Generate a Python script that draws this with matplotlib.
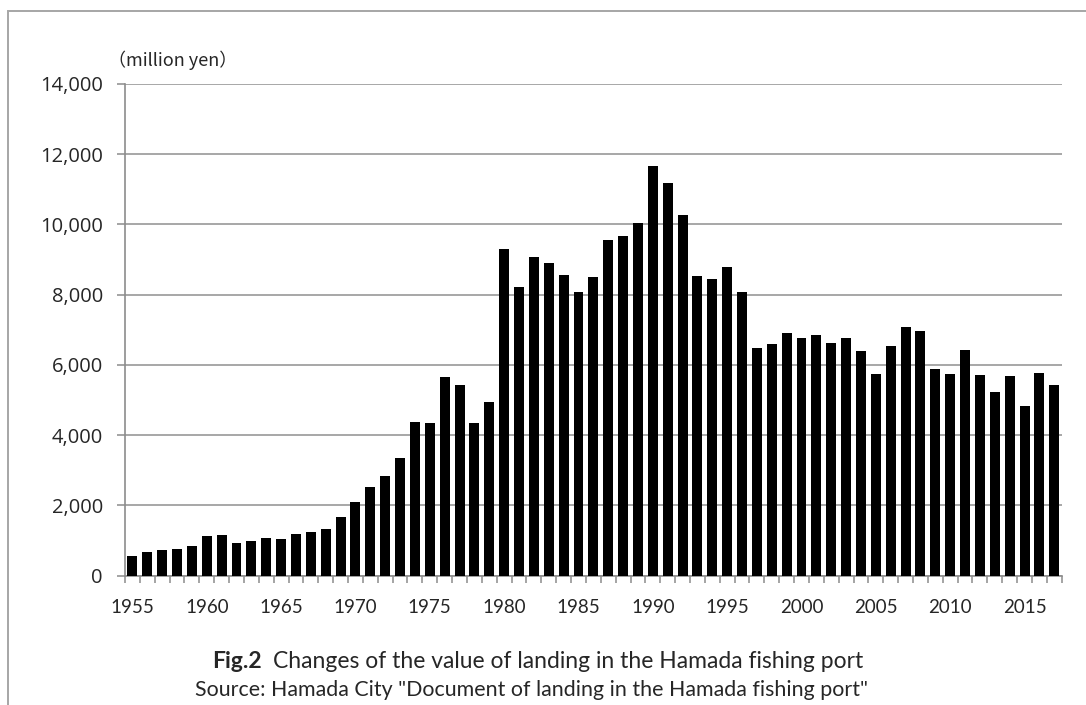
import matplotlib
matplotlib.use("Agg")
import matplotlib.pyplot as plt
from matplotlib.patches import Rectangle
import numpy as np

years = list(range(1955, 2018))
values = [560, 682, 723, 753, 855, 1140, 1171, 926, 977, 1079,
          1049, 1201, 1242, 1334, 1659, 2097, 2525, 2840, 3349, 4370,
          4341, 5649, 5431, 4341, 4948, 9299, 8218, 9081, 8891, 8569,
          8086, 8512, 9564, 9659, 10048, 11659, 11195, 10266, 8531, 8446,
          8797, 8086, 6494, 6589, 6901, 6778, 6845, 6617, 6778, 6399,
          5745, 6551, 7091, 6977, 5887, 5745, 6427, 5716, 5242, 5688,
          4825, 5783, 5432]
y_ticks = [0, 2000, 4000, 6000, 8000, 10000, 12000, 14000]
unit_label = "（million yen）"
caption_bold = "Fig.2"
caption_rest = "Changes of the value of landing in the Hamada fishing port"
source_line = 'Source: Hamada City "Document of landing in the Hamada fishing port"'

W, H = 1086, 705
fig = plt.figure(figsize=(W / 100, H / 100), dpi=100)
fig.patch.set_facecolor("white")
TXT = "#262626"

# chart border
fig.patches.append(Rectangle((8 / W, -0.05), 1.1, 1 - 11 / H + 0.05,
                             transform=fig.transFigure, fill=False,
                             edgecolor="#a6a6a6", linewidth=1.4))

ax = fig.add_axes([125 / W, 1 - 575.7 / H, (1061.7 - 125) / W, (575.7 - 84) / H])
x = np.arange(len(years))
ax.bar(x, values, width=0.67, color="black", zorder=3)

ax.set_xlim(-0.5, len(years) - 0.5)
ax.set_ylim(0, 14000)
ax.set_yticks(y_ticks)
ax.set_yticklabels([f"{v:,}" for v in y_ticks])
ax.yaxis.grid(True, color="#a0a0a0", linewidth=1.3, zorder=0)
ax.set_axisbelow(True)

major = [i for i, yv in enumerate(years) if yv % 5 == 0]
ax.set_xticks(major)
ax.set_xticklabels([str(years[i]) for i in major])
ax.set_xticks(np.arange(-0.5, len(years), 1.0), minor=True)
ax.tick_params(axis="x", which="major", length=0, pad=17)
ax.tick_params(axis="x", which="minor", length=5, width=1.1, color="#8c8c8c", direction="out")
ax.tick_params(axis="y", length=6, width=1.1, color="#8c8c8c", pad=10)

for s in ["top", "right"]:
    ax.spines[s].set_visible(False)
for s in ["left", "bottom"]:
    ax.spines[s].set_color("#8c8c8c")
    ax.spines[s].set_linewidth(1.2)

for lab in ax.get_xticklabels():
    lab.set_family(["Lato", "DejaVu Sans"])
    lab.set_fontsize(13.5)
    lab.set_color(TXT)
for lab in ax.get_yticklabels():
    lab.set_family(["Open Sans", "DejaVu Sans"])
    lab.set_fontsize(14.5)
    lab.set_color(TXT)

fig.text(108 / W, 1 - 60 / H, unit_label, family=["Noto Sans CJK JP", "DejaVu Sans"],
         fontsize=13, va="center", ha="left", color=TXT)

renderer = fig.canvas.get_renderer()


def fit(textobj, target_px):
    w = textobj.get_window_extent(renderer).width
    textobj.set_fontsize(textobj.get_fontsize() * target_px / w)


lato = ["Lato", "DejaVu Sans"]
t_rest = fig.text(273 / W, 1 - 661 / H, caption_rest, family=lato, fontsize=15,
                  va="center", ha="left", color=TXT)
fit(t_rest, 862 - 273)
fig.text(262 / W, 1 - 661 / H, caption_bold, family=lato, fontsize=t_rest.get_fontsize(),
         fontweight="bold", va="center", ha="right", color=TXT)
t_src = fig.text(195 / W, 1 - 690 / H, source_line, family=lato, fontsize=14.5,
                 va="center", ha="left", color=TXT)
fit(t_src, 865 - 195)

fig.savefig("out.png", dpi=100)
